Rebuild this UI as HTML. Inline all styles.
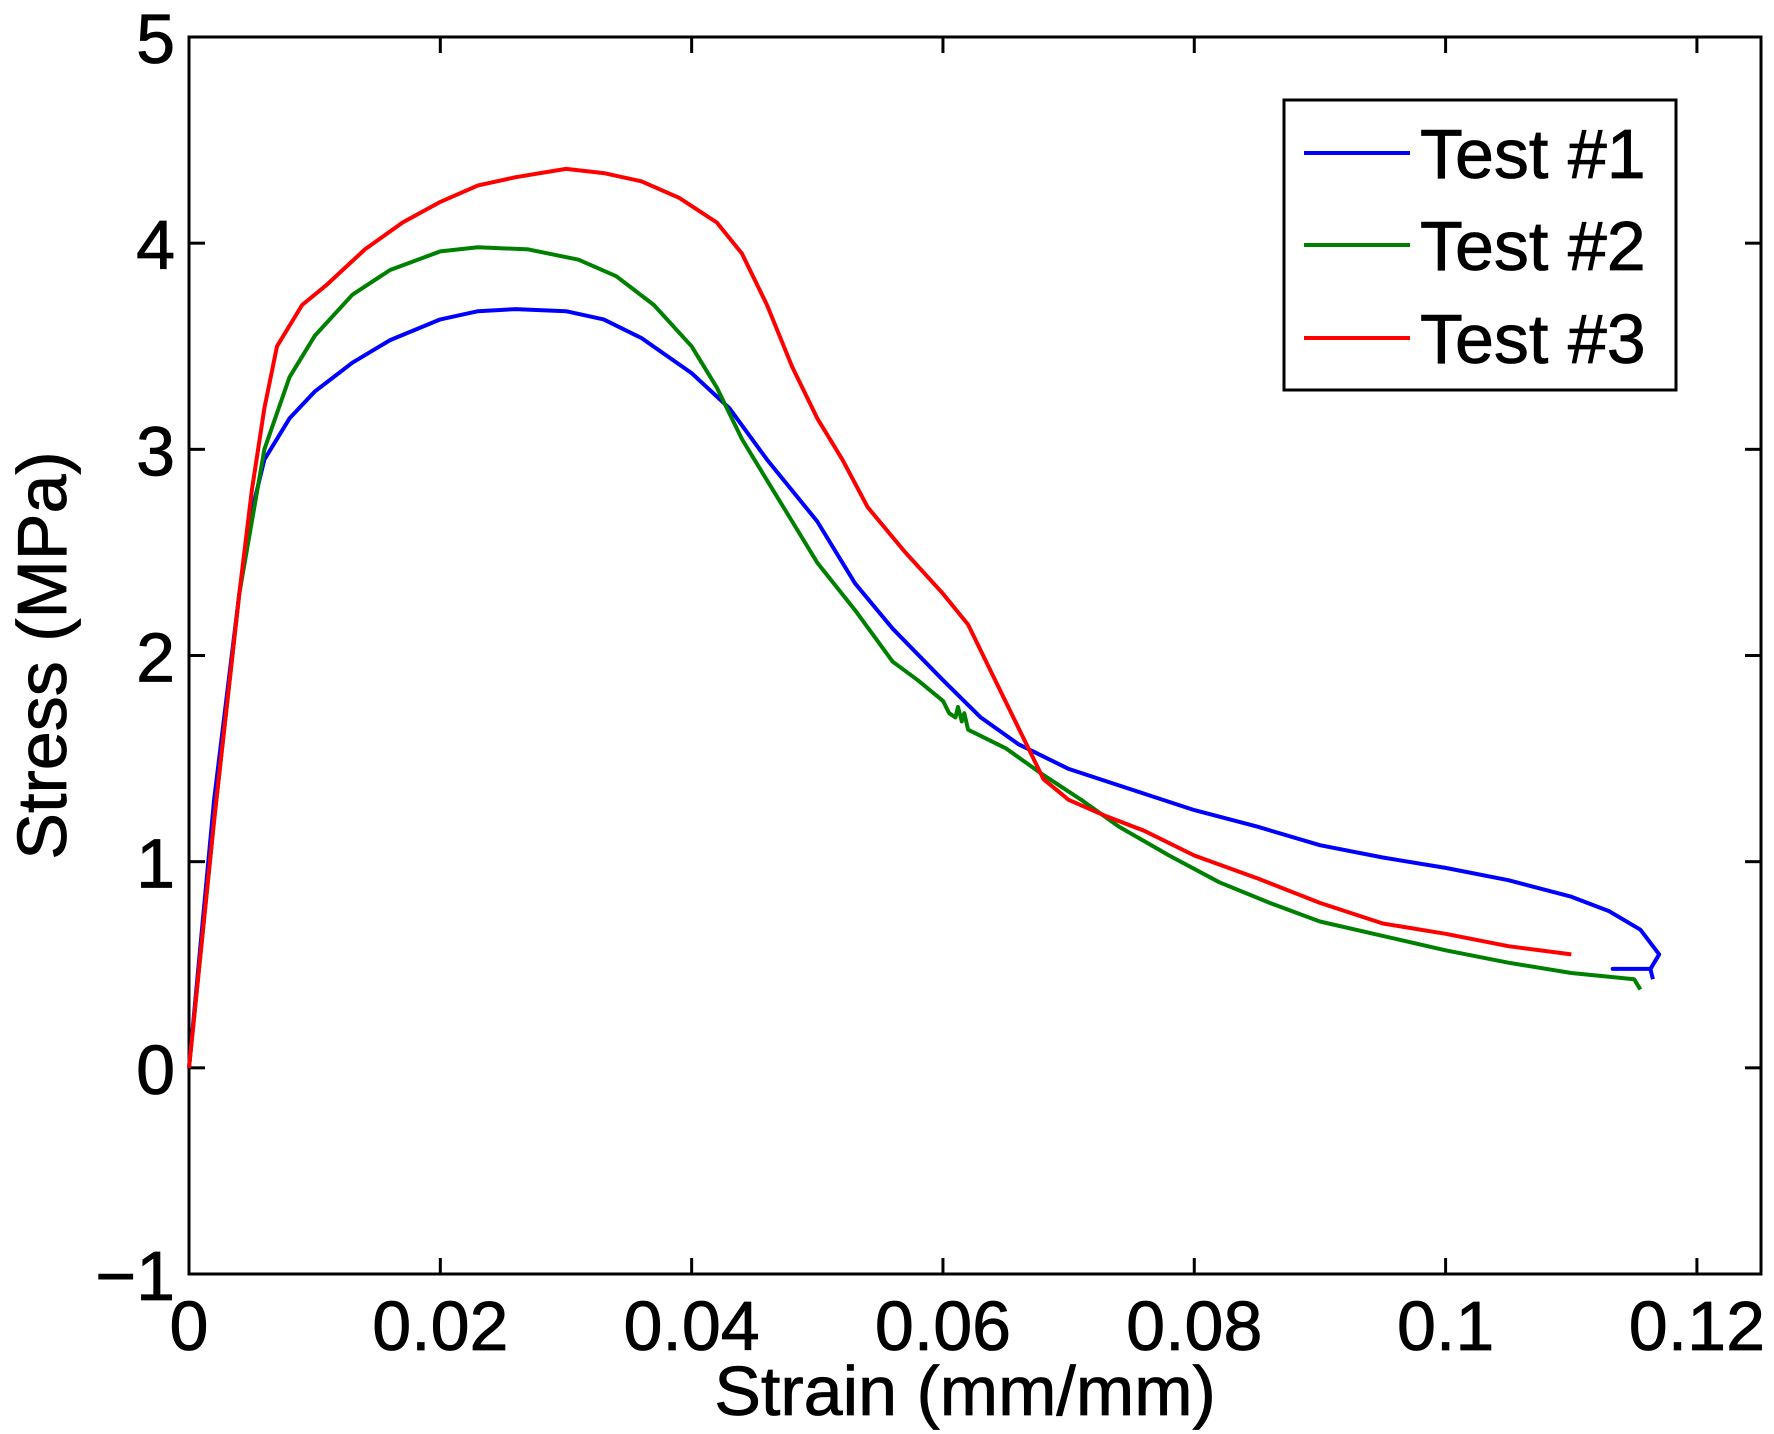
<!DOCTYPE html>
<html><head><meta charset="utf-8"><style>
html,body{margin:0;padding:0;background:#fff}
svg{display:block}
text{font-family:"Liberation Sans",Arial,sans-serif;fill:#000;stroke:#000;stroke-width:0.8px}
</style></head><body>
<svg id="chart" width="1774" height="1434" viewBox="0 0 1774 1434" xmlns="http://www.w3.org/2000/svg">
<g id="axes"></g>
<g id="series"></g>
<g id="legend"></g>
</svg>
<script>
const xTicks=[0,0.02,0.04,0.06,0.08,0.1,0.12];
const xTickLabels=["0","0.02","0.04","0.06","0.08","0.1","0.12"];
const yTicks=[-1,0,1,2,3,4,5];
const yTickLabels=["\u22121","0","1","2","3","4","5"];
const seriesNames=["Test #1","Test #2","Test #3"];
const seriesColors=["#0000ff","#008000","#ff0000"];
const test1Strain=[0,0.002,0.004,0.005,0.006,0.008,0.01,0.013,0.016,0.02,0.023,0.026,0.03,0.033,0.036,0.04,0.043,0.046,0.05,0.053,0.056,0.06,0.063,0.066,0.07,0.075,0.08,0.085,0.09,0.095,0.1,0.105,0.11,0.113,0.1155,0.117,0.1163,0.1133,0.1163,0.1165];
const test1Stress=[0,1.3,2.3,2.7,2.95,3.15,3.28,3.42,3.53,3.63,3.67,3.68,3.67,3.63,3.54,3.37,3.2,2.95,2.65,2.35,2.13,1.88,1.7,1.57,1.45,1.35,1.25,1.17,1.08,1.02,0.97,0.91,0.83,0.76,0.67,0.55,0.48,0.48,0.48,0.43];
const test2Strain=[0,0.002,0.004,0.006,0.008,0.01,0.013,0.016,0.02,0.023,0.027,0.031,0.034,0.037,0.04,0.042,0.044,0.046,0.048,0.05,0.053,0.056,0.058,0.06,0.0605,0.061,0.0612,0.0615,0.0617,0.062,0.065,0.068,0.071,0.074,0.078,0.082,0.086,0.09,0.095,0.1,0.105,0.11,0.115,0.1155];
const test2Stress=[0,1.2,2.3,3.0,3.35,3.55,3.75,3.87,3.96,3.98,3.97,3.92,3.84,3.7,3.5,3.3,3.05,2.85,2.65,2.45,2.22,1.97,1.88,1.78,1.72,1.7,1.75,1.68,1.72,1.64,1.55,1.42,1.3,1.17,1.03,0.9,0.8,0.71,0.64,0.57,0.51,0.46,0.43,0.38];
const test3Strain=[0,0.002,0.004,0.005,0.006,0.007,0.009,0.011,0.014,0.017,0.02,0.023,0.026,0.03,0.033,0.036,0.039,0.042,0.044,0.046,0.048,0.05,0.052,0.054,0.057,0.06,0.062,0.064,0.066,0.068,0.07,0.073,0.076,0.08,0.085,0.09,0.095,0.1,0.105,0.11];
const test3Stress=[0,1.2,2.3,2.8,3.2,3.5,3.7,3.8,3.97,4.1,4.2,4.28,4.32,4.36,4.34,4.3,4.22,4.1,3.95,3.7,3.4,3.15,2.95,2.72,2.5,2.3,2.15,1.9,1.65,1.4,1.3,1.22,1.15,1.03,0.92,0.8,0.7,0.65,0.59,0.55];

const NS="http://www.w3.org/2000/svg";
const L=189,R=1761,T=37,B=1274,XMAX=0.1251,YMIN=-1,YMAX=5;
const sx=v=>L+v/XMAX*(R-L);
const sy=v=>B-(v-YMIN)/(YMAX-YMIN)*(B-T);
function mk(tag,attrs,parent){const e=document.createElementNS(NS,tag);for(const k in attrs)e.setAttribute(k,attrs[k]);parent.appendChild(e);return e;}
const axes=document.getElementById('axes');
const frame=mk('rect',{x:L,y:T,width:R-L,height:B-T,fill:'none',stroke:'#000','stroke-width':3},axes);


xTicks.forEach((v,i)=>{
  const x=sx(v);
  const t1=mk('line',{x1:x,x2:x,y1:B,y2:B-16,stroke:'#000','stroke-width':3},axes);
  
  
  const t2=mk('line',{x1:x,x2:x,y1:T,y2:T+16,stroke:'#000','stroke-width':3},axes);
  
  
  const tx=mk('text',{x:x,y:B+76,'font-size':70,'text-anchor':'middle'},axes);
  tx.textContent=xTickLabels[i];
  
  
});
yTicks.forEach((v,i)=>{
  const y=sy(v);
  const t1=mk('line',{x1:L,x2:L+16,y1:y,y2:y,stroke:'#000','stroke-width':3},axes);
  
  
  const t2=mk('line',{x1:R,x2:R-16,y1:y,y2:y,stroke:'#000','stroke-width':3},axes);
  
  
  const tx=mk('text',{x:L-14,y:y+26,'font-size':70,'text-anchor':'end'},axes);
  tx.textContent=yTickLabels[i];
  
  
});
const xt=mk('text',{x:(L+R)/2-10,y:1415,'font-size':70,'text-anchor':'middle'},axes);
xt.textContent='Strain (mm/mm)';


const yt=mk('text',{x:0,y:0,'font-size':70,'text-anchor':'middle',transform:'translate(66,'+((T+B)/2-0)+') rotate(-90)'},axes);
yt.textContent='Stress (MPa)';



const series=document.getElementById('series');
const data=[[test1Strain,test1Stress],[test2Strain,test2Stress],[test3Strain,test3Stress]];
data.forEach((d,i)=>{
  const pts=d[0].map((x,j)=>sx(x).toFixed(1)+','+sy(d[1][j]).toFixed(1)).join(' ');
  const p=mk('polyline',{points:pts,fill:'none',stroke:seriesColors[i],'stroke-width':4,'stroke-linejoin':'round'},series);
  
  
});

const legend=document.getElementById('legend');
const box=mk('rect',{x:1284,y:100,width:392,height:290,fill:'#fff',stroke:'#000','stroke-width':3},legend);


const ly=[153,245,338];
seriesNames.forEach((n,i)=>{
  const l=mk('line',{x1:1304,x2:1410,y1:ly[i],y2:ly[i],stroke:seriesColors[i],'stroke-width':4},legend);
  
  
  const t=mk('text',{x:1420,y:ly[i]+25,'font-size':70},legend);
  t.textContent=n;
  
  
});
</script>
</body></html>
